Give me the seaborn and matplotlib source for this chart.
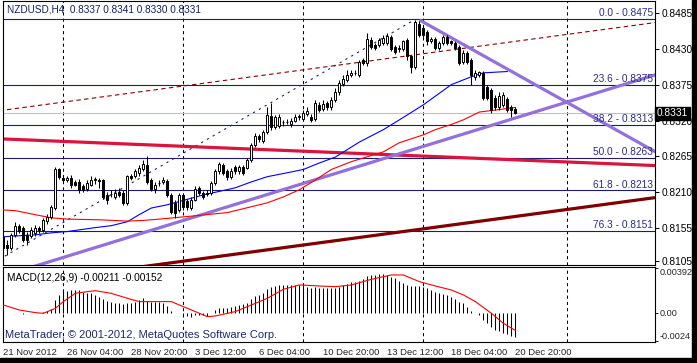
import numpy as np
import pandas as pd
import matplotlib
matplotlib.use('Agg')
import matplotlib.pyplot as plt
from matplotlib.patches import Rectangle
import seaborn as sns

sns.set_style('white')
plt.rcParams['font.family'] = ['Liberation Sans', 'DejaVu Sans']

# NZDUSD H4 candles, one per bar (index 0 = 21 Nov 2012)
opens = [0.8142, 0.8130, 0.8125, 0.8145, 0.8159, 0.8156, 0.8145, 0.8143, 0.8148, 0.8156,
         0.8153, 0.8166, 0.8173, 0.8186, 0.8246, 0.8232, 0.8229, 0.8232, 0.8226, 0.8226,
         0.8219, 0.8215, 0.8222, 0.8229, 0.8229, 0.8229, 0.8206, 0.8208, 0.8203, 0.8211,
         0.8209, 0.8194, 0.8235, 0.8235, 0.8240, 0.8246, 0.8252, 0.8229, 0.8215, 0.8225,
         0.8226, 0.8228, 0.8206, 0.8194, 0.8183, 0.8206, 0.8196, 0.8186, 0.8199, 0.8217,
         0.8209, 0.8209, 0.8209, 0.8225, 0.8242, 0.8252, 0.8242, 0.8234, 0.8249, 0.8242,
         0.8249, 0.8248, 0.8260, 0.8283, 0.8297, 0.8289, 0.8303, 0.8327, 0.8310, 0.8312,
         0.8317, 0.8318, 0.8314, 0.8320, 0.8326, 0.8323, 0.8330, 0.8326, 0.8323, 0.8344,
         0.8338, 0.8347, 0.8340, 0.8352, 0.8363, 0.8376, 0.8382, 0.8390, 0.8393, 0.8390,
         0.8413, 0.8408, 0.8444, 0.8436, 0.8436, 0.8439, 0.8439, 0.8448, 0.8433, 0.8430,
         0.8430, 0.8444, 0.8418, 0.8402, 0.8467, 0.8462, 0.8456, 0.8441, 0.8445, 0.8431,
         0.8439, 0.8448, 0.8441, 0.8439, 0.8433, 0.8410, 0.8424, 0.8413, 0.8386, 0.8390,
         0.8393, 0.8372, 0.8367, 0.8355, 0.8340, 0.8344, 0.8353, 0.8340, 0.8337]
highs = [0.8148, 0.8137, 0.8148, 0.8165, 0.8162, 0.8159, 0.8150, 0.8157, 0.8160, 0.8159,
         0.8171, 0.8177, 0.8191, 0.8249, 0.8248, 0.8235, 0.8235, 0.8237, 0.8229, 0.8231,
         0.8223, 0.8229, 0.8235, 0.8234, 0.8232, 0.8231, 0.8211, 0.8214, 0.8215, 0.8217,
         0.8214, 0.8237, 0.8238, 0.8245, 0.8252, 0.8260, 0.8266, 0.8232, 0.8226, 0.8229,
         0.8234, 0.8231, 0.8209, 0.8199, 0.8209, 0.8209, 0.8200, 0.8203, 0.8220, 0.8220,
         0.8212, 0.8214, 0.8228, 0.8245, 0.8257, 0.8255, 0.8245, 0.8248, 0.8252, 0.8252,
         0.8252, 0.8263, 0.8286, 0.8301, 0.8300, 0.8306, 0.8341, 0.8347, 0.8329, 0.8330,
         0.8321, 0.8323, 0.8324, 0.8330, 0.8330, 0.8336, 0.8340, 0.8330, 0.8352, 0.8349,
         0.8352, 0.8350, 0.8356, 0.8370, 0.8382, 0.8389, 0.8398, 0.8398, 0.8398, 0.8413,
         0.8416, 0.8454, 0.8448, 0.8439, 0.8447, 0.8451, 0.8454, 0.8451, 0.8436, 0.8435,
         0.8444, 0.8447, 0.8421, 0.8474, 0.8473, 0.8465, 0.8459, 0.8448, 0.8448, 0.8442,
         0.8451, 0.8451, 0.8444, 0.8442, 0.8436, 0.8428, 0.8427, 0.8416, 0.8398, 0.8396,
         0.8396, 0.8375, 0.8370, 0.8359, 0.8363, 0.8363, 0.8356, 0.8344, 0.8341]
lows = [0.8120, 0.8114, 0.8122, 0.8142, 0.8148, 0.8134, 0.8130, 0.8140, 0.8143, 0.8148,
        0.8150, 0.8162, 0.8169, 0.8183, 0.8231, 0.8225, 0.8226, 0.8217, 0.8219, 0.8209,
        0.8211, 0.8212, 0.8219, 0.8223, 0.8217, 0.8200, 0.8192, 0.8203, 0.8200, 0.8203,
        0.8191, 0.8191, 0.8229, 0.8232, 0.8235, 0.8243, 0.8223, 0.8212, 0.8209, 0.8220,
        0.8223, 0.8203, 0.8177, 0.8171, 0.8180, 0.8183, 0.8183, 0.8183, 0.8196, 0.8206,
        0.8200, 0.8205, 0.8206, 0.8222, 0.8238, 0.8237, 0.8229, 0.8231, 0.8238, 0.8238,
        0.8237, 0.8245, 0.8257, 0.8280, 0.8287, 0.8286, 0.8300, 0.8306, 0.8307, 0.8309,
        0.8312, 0.8314, 0.8310, 0.8317, 0.8321, 0.8320, 0.8327, 0.8318, 0.8320, 0.8333,
        0.8335, 0.8336, 0.8336, 0.8349, 0.8359, 0.8373, 0.8379, 0.8386, 0.8389, 0.8387,
        0.8405, 0.8404, 0.8430, 0.8428, 0.8433, 0.8436, 0.8436, 0.8427, 0.8422, 0.8425,
        0.8427, 0.8413, 0.8393, 0.8399, 0.8448, 0.8447, 0.8436, 0.8438, 0.8428, 0.8428,
        0.8436, 0.8436, 0.8435, 0.8428, 0.8405, 0.8407, 0.8407, 0.8375, 0.8382, 0.8386,
        0.8352, 0.8352, 0.8332, 0.8336, 0.8336, 0.8340, 0.8333, 0.8326, 0.8330]
closes = [0.8125, 0.8125, 0.8145, 0.8159, 0.8151, 0.8137, 0.8137, 0.8153, 0.8156, 0.8153,
          0.8168, 0.8173, 0.8188, 0.8246, 0.8234, 0.8229, 0.8232, 0.8222, 0.8222, 0.8214,
          0.8214, 0.8225, 0.8229, 0.8230, 0.8228, 0.8203, 0.8199, 0.8207, 0.8209, 0.8206,
          0.8194, 0.8235, 0.8232, 0.8242, 0.8248, 0.8254, 0.8226, 0.8215, 0.8222, 0.8224,
          0.8229, 0.8206, 0.8180, 0.8179, 0.8206, 0.8188, 0.8188, 0.8199, 0.8215, 0.8209,
          0.8203, 0.8208, 0.8225, 0.8242, 0.8254, 0.8240, 0.8234, 0.8243, 0.8242, 0.8249,
          0.8240, 0.8260, 0.8283, 0.8297, 0.8291, 0.8303, 0.8329, 0.8310, 0.8326, 0.8326,
          0.8318, 0.8317, 0.8320, 0.8326, 0.8327, 0.8332, 0.8335, 0.8321, 0.8347, 0.8336,
          0.8346, 0.8340, 0.8352, 0.8364, 0.8378, 0.8384, 0.8390, 0.8393, 0.8392, 0.8410,
          0.8408, 0.8445, 0.8433, 0.8431, 0.8444, 0.8447, 0.8450, 0.8430, 0.8425, 0.8431,
          0.8441, 0.8418, 0.8402, 0.8471, 0.8451, 0.8451, 0.8441, 0.8445, 0.8431, 0.8439,
          0.8448, 0.8439, 0.8439, 0.8431, 0.8408, 0.8424, 0.8410, 0.8390, 0.8393, 0.8395,
          0.8355, 0.8355, 0.8336, 0.8341, 0.8358, 0.8359, 0.8336, 0.8336, 0.8331]

# moving averages (bar index, price)
blue_idx = [0, 8, 12, 16, 23, 27, 31, 34, 37, 41, 44, 50, 58, 62, 66, 71, 75, 79, 83, 89,
            95, 99, 105, 112, 117, 120, 126]
blue_vals = [0.8142, 0.8145, 0.8148, 0.8150, 0.8156, 0.8159, 0.8165, 0.8176, 0.8186, 0.8191,
             0.8196, 0.8206, 0.8217, 0.8226, 0.8234, 0.8240, 0.8245, 0.8255, 0.8264, 0.8287,
             0.8306, 0.8321, 0.8344, 0.8375, 0.8387, 0.8393, 0.8395]
red_idx = [0, 3, 7, 12, 16, 24, 31, 35, 39, 46, 51, 56, 62, 66, 70, 74, 78, 82, 87, 95,
           99, 105, 108, 112, 115, 119, 123, 128]
red_vals = [0.8183, 0.8182, 0.8177, 0.8171, 0.8169, 0.8168, 0.8166, 0.8167, 0.8169, 0.8173,
            0.8176, 0.8179, 0.8188, 0.8194, 0.8203, 0.8214, 0.8229, 0.8245, 0.8257, 0.8272,
            0.8286, 0.8298, 0.8306, 0.8314, 0.8321, 0.8333, 0.8336, 0.8340]

# MACD(12,26,9)
macd_hist = [0.00003, -0.00002, -0.00003, -0.00004, -0.00004, -0.00005, -0.00004, -0.00003, -0.00002, 0.00002,
             0.00005, 0.0002, 0.00032, 0.00113, 0.00157, 0.00194, 0.00194, 0.002, 0.002, 0.002,
             0.00186, 0.00171, 0.00177, 0.00157, 0.00142, 0.00119, 0.00107, 0.00099, 0.0009, 0.00084,
             0.00078, 0.00084, 0.0009, 0.00099, 0.00113, 0.00128, 0.00107, 0.00099, 0.00099, 0.00099,
             0.0009, 0.00061, 0.0002, 0.00003, -0.00003, -0.00017, -0.00026, -0.00032, -0.0002, -0.00017,
             -0.00017, -0.00023, -0.00003, 0.00026, 0.00041, 0.00041, 0.00046, 0.00055, 0.00061, 0.0007,
             0.00075, 0.0009, 0.00119, 0.00148, 0.00157, 0.00177, 0.00206, 0.00223, 0.00235, 0.00241,
             0.00241, 0.00244, 0.00244, 0.00244, 0.00247, 0.00247, 0.00229, 0.00215, 0.00223, 0.00215,
             0.00215, 0.00215, 0.00215, 0.0022, 0.00229, 0.00241, 0.00252, 0.00273, 0.0027, 0.00281,
             0.00293, 0.00322, 0.00331, 0.00331, 0.00339, 0.00339, 0.00331, 0.00316, 0.00302, 0.00281,
             0.00264, 0.00244, 0.00235, 0.00235, 0.00235, 0.00229, 0.00215, 0.002, 0.00186, 0.00171,
             0.00165, 0.00157, 0.00136, 0.00119, 0.00099, 0.00084, 0.00055, 0.0002, 0.00002, -0.00017,
             -0.00061, -0.0009, -0.00119, -0.00148, -0.00154, -0.00171, -0.00183, -0.002, -0.00211]
signal_idx = [0, 4, 8, 10, 13, 15, 18, 21, 23, 27, 31, 34, 38, 42, 45, 48, 51, 53, 58, 63,
              66, 70, 74, 79, 83, 87, 92, 97, 100, 104, 108, 112, 115, 118, 122, 125, 128]
signal_vals = [0.0007, 0.00026, 0.00003, -0.00003, 0.0004, 0.00099, 0.00171, 0.00186, 0.00194, 0.00171,
               0.00128, 0.00099, 0.00099, 0.00099, 0.00055, 0.00012, -0.00032, -0.00026, 0.00012, 0.00084,
               0.00128, 0.00206, 0.00244, 0.00235, 0.00229, 0.00244, 0.00293, 0.00331, 0.00331, 0.00273,
               0.00235, 0.002, 0.00157, 0.00099, -0.00003, -0.0009, -0.00152]

# fibonacci retracement
fib_pct = ['0.0', '23.6', '38.2', '50.0', '61.8', '76.3']
fib_price = [0.8475, 0.8375, 0.8313, 0.8263, 0.8213, 0.8151]

# trendlines (bar index pairs, price pairs)
dashed_x, dashed_y = [-1, 163], [0.8335, 0.8470]
maroon_x, maroon_y = [20, 163], [0.8084, 0.8202]
crimson_x, crimson_y = [-1, 163], [0.8292, 0.8251]
up_x, up_y = [0, 163], [0.8082, 0.8390]
down_x, down_y = [104, 163], [0.8474, 0.8272]
fibdiag_x, fibdiag_y = [-17, 103], [0.8051, 0.8475]

last_price = 0.8331
price_ticks = [0.8485, 0.8430, 0.8375, 0.8320, 0.8265, 0.8210, 0.8155, 0.8105]
macd_ticks = [0.00392, 0.0, -0.0024]
macd_tick_labels = ['0.00392', '0.00', '-0.0024']
date_ticks = [0, 16, 32, 48, 64, 80, 96, 112, 128]
date_labels = ['21 Nov 2012', '26 Nov 04:00', '28 Nov 20:00', '3 Dec 12:00', '6 Dec 04:00',
               '10 Dec 20:00', '13 Dec 12:00', '18 Dec 04:00', '20 Dec 20:00']
grid_bars = [15, 45, 75, 105, 141]

df = pd.DataFrame({'open': opens, 'high': highs, 'low': lows, 'close': closes})
df['bar'] = np.arange(len(df))

navy = '#1c1c70'
fig = plt.figure(figsize=(6.97, 3.63), dpi=100)
ax = fig.add_axes([0.0036, 0.2686, 0.9362, 0.7287])
ax2 = fig.add_axes([0.0036, 0.0587, 0.9362, 0.2044], sharex=ax)

for a in (ax, ax2):
    for s in a.spines.values():
        s.set_color('black')
        s.set_linewidth(0.8)
    for g in grid_bars:
        a.axvline(g, color='black', lw=0.75, ls=(0, (3, 3)), zorder=1)

# fib levels + current price line
for pct, p in zip(fib_pct, fib_price):
    ax.axhline(p, color=navy, lw=0.8, zorder=2)
    ax.text(0.997, p + 0.00012, f'{pct} - {p:.4f}', transform=ax.get_yaxis_transform(),
            ha='right', va='bottom', fontsize=7.3, color='#2a2a90', zorder=3)
ax.axhline(last_price, color='#c0c0c0', lw=0.8, zorder=2)

ax.plot(fibdiag_x, fibdiag_y, color=navy, lw=0.8, ls=(0, (2, 4)), zorder=2)
ax.plot(dashed_x, dashed_y, color='#8b0000', lw=0.8, ls=(0, (4, 3)), zorder=2)
ax.plot(maroon_x, maroon_y, color='#800000', lw=2.3, zorder=2, solid_capstyle='butt')
ax.plot(crimson_x, crimson_y, color='#dc143c', lw=2.3, zorder=2, solid_capstyle='butt')
ax.plot(up_x, up_y, color='#9370db', lw=2.3, zorder=2, solid_capstyle='butt')
ax.plot(down_x, down_y, color='#9370db', lw=2.3, zorder=2, solid_capstyle='butt')

sns.lineplot(x=blue_idx, y=blue_vals, ax=ax, color='#0000ff', lw=0.8, sort=False, estimator=None, zorder=3)
sns.lineplot(x=red_idx, y=red_vals, ax=ax, color='#ff0000', lw=0.8, sort=False, estimator=None, zorder=3)

# candles
up = df['close'] >= df['open']
ax.vlines(df['bar'], df['low'], df['high'], color='black', lw=0.75, zorder=4)
body_lo = np.minimum(df['open'], df['close'])
body_h = np.maximum((df['close'] - df['open']).abs(), 0.00002)
ax.bar(df['bar'], body_h, bottom=body_lo, width=0.5,
       color=np.where(up, 'white', 'black'), edgecolor='black', linewidth=0.7, zorder=5)

ax.set_xlim(-0.2, 162.9)
ax.set_ylim(0.8098, 0.8503)
ax.yaxis.tick_right()
ax.set_yticks(price_ticks)
ax.set_yticklabels([f'{t:.4f}' for t in price_ticks])
ax.tick_params(axis='y', direction='out', length=3, width=0.75, pad=1.5, labelsize=7.3, colors='black')
ax.tick_params(axis='x', bottom=False, labelbottom=False)
ax.set_xlabel('')
ax.set_ylabel('')

ax.text(1.003, last_price, f'{last_price:.4f}', transform=ax.get_yaxis_transform(),
        ha='left', va='center', fontsize=7.3, color='white', zorder=6,
        bbox=dict(facecolor='black', edgecolor='black', pad=1.2))

# MACD panel
ax2.vlines(df['bar'], 0, macd_hist, color='black', lw=0.75, zorder=3)
sns.lineplot(x=signal_idx, y=signal_vals, ax=ax2, color='#ff0000', lw=0.8, sort=False, estimator=None, zorder=4)
ax2.set_ylim(-0.0025, 0.00396)
ax2.yaxis.tick_right()
ax2.set_yticks(macd_ticks)
ax2.set_yticklabels(macd_tick_labels)
ax2.tick_params(axis='y', direction='out', length=2.5, width=0.75, pad=1, labelsize=6.6)
lbls = ax2.get_yticklabels()
lbls[0].set_va('top')
lbls[-1].set_va('bottom')
ax2.set_xticks(date_ticks)
ax2.set_xticklabels(date_labels, ha='left')
ax2.tick_params(axis='x', direction='out', length=3, width=0.75, pad=1.5, labelsize=6.8)
ax2.set_xlabel('')
ax2.set_ylabel('')

ax2.text(0.007, 0.93, 'MACD(12,26,9) -0.00211 -0.00152', transform=ax2.transAxes,
         ha='left', va='top', fontsize=7.3, color='black')
ax2.text(0.004, 0.02, 'MetaTrader, \u00a9 2001-2012, MetaQuotes Software Corp.', transform=ax2.transAxes,
         ha='left', va='bottom', fontsize=8, color='#1c2a6c')

fig.text(7 / 697, 1 - 9 / 363, 'NZDUSD,H4  0.8337 0.8341 0.8330 0.8331', ha='left', va='center',
         fontsize=7.2, color='#10205a')

# black window frame on the right and bottom
fig.patches.append(Rectangle((692 / 697, 0), 5 / 697, 1, transform=fig.transFigure, color='black', zorder=10))
fig.patches.append(Rectangle((0, 0), 1, 5 / 363, transform=fig.transFigure, color='black', zorder=10))

fig.savefig('out.png', dpi=100)
